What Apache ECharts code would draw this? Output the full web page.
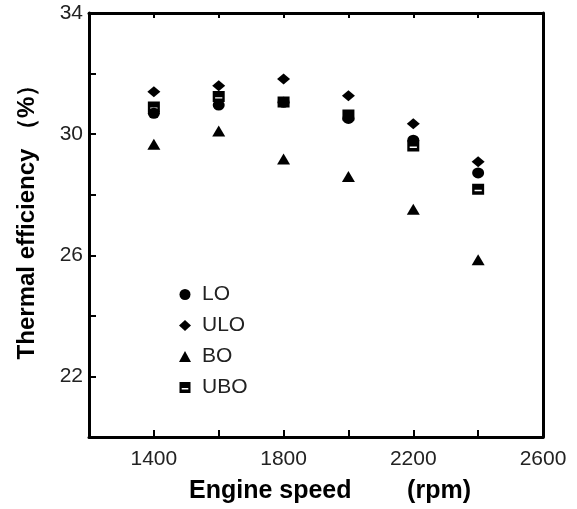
<!DOCTYPE html>
<html>
<head>
<meta charset="utf-8">
<script src="https://cdn.jsdelivr.net/npm/echarts@6/dist/echarts.min.js"></script>
<style>html,body{margin:0;padding:0;background:#fff}#c{width:577px;height:509px}</style>
</head>
<body>
<div id="c"></div>
<script>
const speeds = [1400, 1600, 1800, 2000, 2200, 2400];
const LO  = [30.69, 30.96, 31.05, 30.52, 29.80, 28.72];
const ULO = [31.40, 31.60, 31.82, 31.27, 30.34, 29.09];
const BO  = [29.67, 30.10, 29.18, 28.60, 27.52, 25.85];
const UBO = [30.90, 31.24, 31.06, 30.63, 29.61, 28.18];
const xLabels = [1400, 1800, 2200, 2600];
const yLabels = [22, 26, 30, 34];

const pair = arr => speeds.map((s, i) => [s, arr[i]]);
const font = 'Liberation Sans, Arial, sans-serif';
const uboSymbol = 'path://M0,0 H10 V10 H0 Z M2,5.5 V6.8 H8 V5.5 Z';

const chart = echarts.init(document.getElementById('c'));
const mk = (name, data, symbol, size) => ({
  name, type: 'scatter', data: pair(data), symbol, symbolSize: size,
  itemStyle: { color: '#000', opacity: 1 }, z: 3
});
chart.setOption({
  animation: false,
  backgroundColor: '#fff',
  grid: { left: 89, right: 34, top: 13, bottom: 72 },
  legend: {
    orient: 'vertical', left: 174, top: 279, itemGap: 10,
    itemWidth: 12, itemHeight: 11,
    itemStyle: { opacity: 1 },
    textStyle: { fontFamily: font, fontSize: 21, color: '#222', padding: [0, 0, 0, 6] },
    data: [
      { name: 'LO', icon: 'circle' },
      { name: 'ULO', icon: 'diamond' },
      { name: 'BO', icon: 'triangle' },
      { name: 'UBO', icon: uboSymbol }
    ]
  },
  xAxis: [{
    type: 'value', min: 1200, max: 2600, interval: 200,
    name: 'Engine speed        (rpm)', nameLocation: 'middle', nameGap: 42,
    nameTextStyle: { fontFamily: font, fontSize: 25, fontWeight: 'bold', color: '#000', padding: [0, 0, 0, 28] },
    axisLine: { lineStyle: { color: '#000', width: 3 } },
    axisTick: { inside: true, length: 7, lineStyle: { color: '#000', width: 2 } },
    axisLabel: {
      fontFamily: font, fontSize: 21, color: '#222', margin: 12,
      formatter: v => xLabels.includes(v) ? String(v) : ''
    },
    splitLine: { show: false }
  }, {
    type: 'value', position: 'top', min: 1200, max: 2600, interval: 200,
    axisLine: { lineStyle: { color: '#000', width: 3 } },
    axisTick: { inside: true, length: 5, lineStyle: { color: '#000', width: 2 } },
    axisLabel: { show: false }, splitLine: { show: false }
  }],
  yAxis: [{
    type: 'value', min: 20, max: 34, interval: 2,
    name: 'Thermal efficiency （%）', nameLocation: 'middle', nameGap: 50,
    nameTextStyle: { fontFamily: font, fontSize: 24, fontWeight: 'bold', color: '#000', padding: [0, 0, 0, 18] },
    axisLine: { lineStyle: { color: '#000', width: 3 } },
    axisTick: { inside: true, length: 7, lineStyle: { color: '#000', width: 2 } },
    axisLabel: {
      fontFamily: font, fontSize: 21, color: '#222', margin: 6,
      formatter: v => yLabels.includes(v) ? String(v) : ''
    },
    splitLine: { show: false }
  }, {
    type: 'value', position: 'right', min: 20, max: 34, interval: 2,
    axisLine: { show: true, lineStyle: { color: '#000', width: 3 } },
    axisTick: { show: false }, axisLabel: { show: false }, splitLine: { show: false }
  }],
  series: [
    mk('LO', LO, 'circle', [12, 11]),
    mk('ULO', ULO, 'diamond', [13, 11]),
    mk('BO', BO, 'triangle', [13, 11]),
    mk('UBO', UBO, uboSymbol, [12, 11])
  ]
});
</script>
</body>
</html>
